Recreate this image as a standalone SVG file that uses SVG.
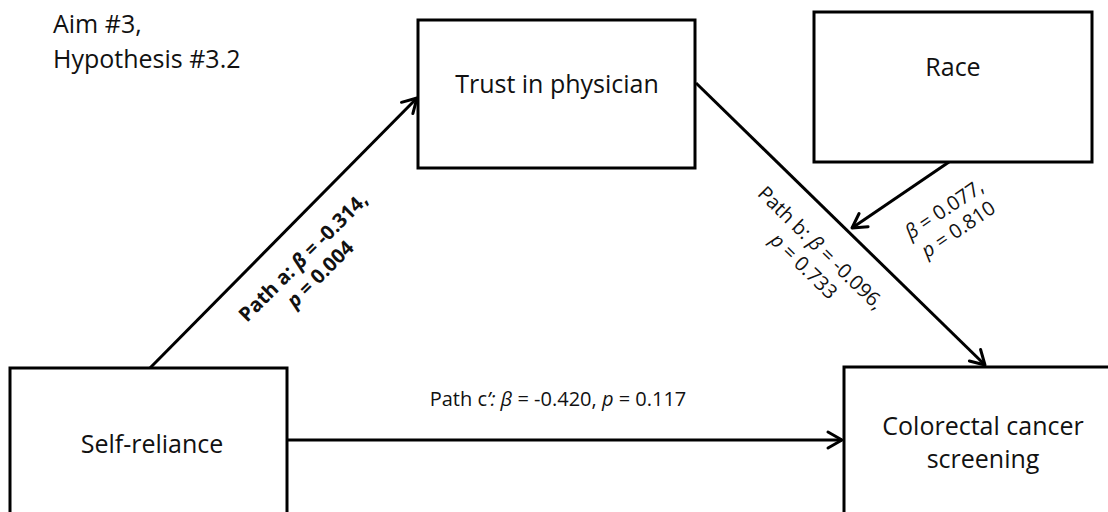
<svg xmlns="http://www.w3.org/2000/svg" width="1108" height="512" viewBox="0 0 1108 512">
<style>
.box{fill:#fff;stroke:#000;stroke-width:3}
.lbl{font-family:"Open Sans","Liberation Sans",sans-serif;font-size:25px;fill:#111;text-anchor:middle}
.ttl{font-family:"Open Sans","Liberation Sans",sans-serif;font-size:25px;fill:#111}
.pl{font-family:"Open Sans","Liberation Sans",sans-serif;font-size:20px;fill:#111;text-anchor:middle}
.b{font-weight:bold}
.i{font-style:italic}
.edge{fill:none;stroke:#000;stroke-width:3;marker-end:url(#ah)}
</style>
<defs>
<marker id="ah" markerUnits="userSpaceOnUse" markerWidth="24" markerHeight="24" viewBox="-18 -12 24 24" refX="0" refY="0" orient="auto">
<path d="M-14,-8 L0,0 L-14,8" fill="none" stroke="#000" stroke-width="3" stroke-linejoin="round" stroke-linecap="round"/>
</marker>
</defs>
<rect width="1108" height="512" fill="#fff"/>
<g id="title">
<text class="ttl" x="53" y="33">Aim #3,</text>
<text class="ttl" x="53" y="68">Hypothesis #3.2</text>
</g>
<g id="connectors">
<path class="edge" d="M150,368 L417,98"/>
<path class="edge" d="M696,83 L985,365"/>
<path class="edge" d="M949,162 L852,228"/>
<path class="edge" d="M287,440 L842,440"/>
<text class="pl b" transform="translate(308,262) rotate(-45)">Path a: <tspan class="i">β</tspan> = -0.314,</text>
<text class="pl b" transform="translate(325,279) rotate(-45)"><tspan class="i">p</tspan> = 0.004</text>
<text class="pl" transform="translate(816,253) rotate(44.3)">Path b: <tspan class="i">β</tspan> = -0.096,</text>
<text class="pl" transform="translate(799,271) rotate(44.3)"><tspan class="i">p</tspan> = 0.733</text>
<text class="pl" transform="translate(948,215) rotate(-34)"><tspan class="i">β</tspan> = 0.077,</text>
<text class="pl" transform="translate(962,235) rotate(-34)"><tspan class="i">p</tspan> = 0.810</text>
<text class="pl" x="558" y="406">Path c<tspan class="i">’: β</tspan> = -0.420, <tspan class="i">p</tspan> = 0.117</text>
</g>
<g id="trust">
<rect class="box" x="418" y="20" width="277" height="148"/>
<text class="lbl" x="557" y="93">Trust in physician</text>
</g>
<g id="race">
<rect class="box" x="814" y="12" width="278" height="150"/>
<text class="lbl" x="953" y="76">Race</text>
</g>
<g id="self">
<rect class="box" x="10" y="368" width="277" height="160"/>
<text class="lbl" x="152" y="453">Self-reliance</text>
</g>
<g id="crc">
<rect class="box" x="844" y="367" width="278" height="160"/>
<text class="lbl" x="983" y="435">Colorectal cancer</text>
<text class="lbl" x="983" y="468">screening</text>
</g>
</svg>
